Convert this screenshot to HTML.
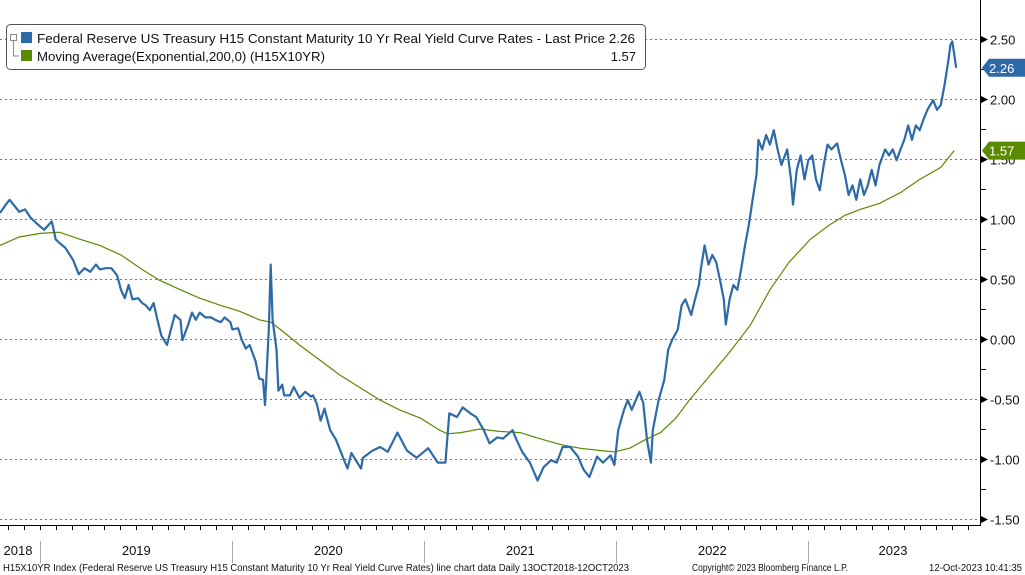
<!DOCTYPE html>
<html><head><meta charset="utf-8"><style>
html,body{margin:0;padding:0;background:#fff;}
svg{display:block;font-family:"Liberation Sans",sans-serif;}
</style></head><body>
<svg id="chart" width="1025" height="575" viewBox="0 0 1025 575" xmlns="http://www.w3.org/2000/svg">
<g id="grid"></g>
<g id="axes"></g>
<g id="series"></g>
<g id="legend">
<rect x="6.5" y="24.5" width="639" height="45" rx="4" fill="#fff" stroke="#555" stroke-width="1"/>
<rect x="10.5" y="34.5" width="6" height="6" fill="#fff" stroke="#888"/>
<path d="M13.5 41V56H19" stroke="#888" fill="none"/>
<rect x="21" y="32" width="11" height="11" fill="#2d6aa8"/>
<text x="37" y="43" font-size="13" fill="#111" textLength="598" lengthAdjust="spacingAndGlyphs">Federal Reserve US Treasury H15 Constant Maturity 10 Yr Real Yield Curve Rates - Last Price 2.26</text>
<rect x="21" y="50" width="11" height="11" fill="#5a8a00"/>
<text x="37" y="61" font-size="13" fill="#111" textLength="288" lengthAdjust="spacingAndGlyphs">Moving Average(Exponential,200,0) (H15X10YR)</text>
<text x="636" y="61" font-size="13" fill="#111" text-anchor="end">1.57</text>
</g>
<g id="footer" font-size="10" fill="#111">
<text x="3" y="571" textLength="626" lengthAdjust="spacingAndGlyphs">H15X10YR Index (Federal Reserve US Treasury H15 Constant Maturity 10 Yr Real Yield Curve Rates) line chart data  Daily 13OCT2018-12OCT2023</text>
<text x="692" y="571" textLength="156" lengthAdjust="spacingAndGlyphs">Copyright© 2023 Bloomberg Finance L.P.</text>
<text x="1022" y="571" text-anchor="end" textLength="93" lengthAdjust="spacingAndGlyphs">12-Oct-2023 10:41:35</text>
</g>
</svg>
<script>
const yieldDates=[2018.79,2018.82,2018.84,2018.87,2018.89,2018.92,2018.95,2018.99,2019.02,2019.06,2019.08,2019.10,2019.13,2019.17,2019.20,2019.23,2019.26,2019.29,2019.31,2019.34,2019.37,2019.40,2019.42,2019.44,2019.46,2019.48,2019.51,2019.53,2019.55,2019.57,2019.59,2019.61,2019.63,2019.66,2019.68,2019.70,2019.73,2019.74,2019.77,2019.79,2019.81,2019.83,2019.86,2019.89,2019.91,2019.94,2019.96,2019.99,2020.00,2020.03,2020.05,2020.07,2020.09,2020.12,2020.14,2020.16,2020.17,2020.19,2020.20,2020.21,2020.23,2020.24,2020.26,2020.27,2020.30,2020.32,2020.35,2020.38,2020.41,2020.42,2020.44,2020.46,2020.48,2020.51,2020.54,2020.60,2020.62,2020.67,2020.68,2020.73,2020.77,2020.81,2020.86,2020.91,2020.96,2021.02,2021.07,2021.11,2021.13,2021.17,2021.20,2021.24,2021.27,2021.31,2021.34,2021.38,2021.41,2021.46,2021.48,2021.51,2021.55,2021.59,2021.62,2021.66,2021.69,2021.72,2021.76,2021.80,2021.83,2021.86,2021.90,2021.93,2021.97,2021.99,2022.01,2022.04,2022.06,2022.08,2022.12,2022.14,2022.16,2022.18,2022.19,2022.22,2022.25,2022.27,2022.29,2022.32,2022.34,2022.36,2022.39,2022.41,2022.43,2022.44,2022.46,2022.48,2022.50,2022.52,2022.54,2022.56,2022.57,2022.59,2022.61,2022.63,2022.65,2022.67,2022.69,2022.71,2022.73,2022.74,2022.76,2022.78,2022.80,2022.82,2022.84,2022.86,2022.89,2022.91,2022.92,2022.94,2022.96,2022.98,2023.00,2023.02,2023.04,2023.06,2023.08,2023.10,2023.12,2023.15,2023.17,2023.19,2023.21,2023.23,2023.25,2023.27,2023.29,2023.31,2023.33,2023.35,2023.37,2023.40,2023.42,2023.44,2023.46,2023.48,2023.50,2023.52,2023.54,2023.56,2023.58,2023.60,2023.62,2023.65,2023.67,2023.69,2023.71,2023.73,2023.74,2023.75,2023.77];
const yieldValues=[1.05,1.12,1.16,1.10,1.06,1.08,1.01,0.95,0.91,0.98,0.83,0.80,0.76,0.66,0.54,0.59,0.56,0.62,0.58,0.59,0.59,0.53,0.41,0.34,0.45,0.33,0.34,0.30,0.28,0.24,0.30,0.16,0.03,-0.05,0.08,0.20,0.16,-0.01,0.12,0.22,0.16,0.22,0.18,0.18,0.16,0.14,0.18,0.14,0.08,0.09,-0.01,-0.08,-0.05,-0.18,-0.33,-0.34,-0.55,0.08,0.62,0.16,-0.09,-0.43,-0.38,-0.47,-0.47,-0.40,-0.49,-0.44,-0.48,-0.47,-0.54,-0.68,-0.58,-0.76,-0.84,-1.08,-0.95,-1.08,-0.99,-0.93,-0.90,-0.94,-0.78,-0.93,-0.99,-0.91,-1.03,-1.03,-0.62,-0.65,-0.57,-0.62,-0.65,-0.76,-0.87,-0.82,-0.83,-0.76,-0.84,-0.94,-1.03,-1.18,-1.07,-1.01,-1.03,-0.90,-0.90,-0.98,-1.09,-1.15,-0.98,-1.03,-0.97,-1.05,-0.76,-0.59,-0.51,-0.59,-0.44,-0.53,-0.84,-1.03,-0.76,-0.51,-0.34,-0.09,-0.01,0.08,0.28,0.33,0.20,0.33,0.45,0.58,0.78,0.62,0.70,0.64,0.49,0.33,0.12,0.33,0.45,0.41,0.58,0.78,0.95,1.16,1.37,1.66,1.58,1.70,1.62,1.74,1.58,1.45,1.58,1.33,1.12,1.41,1.53,1.33,1.49,1.53,1.33,1.24,1.45,1.62,1.58,1.63,1.49,1.37,1.20,1.28,1.16,1.33,1.20,1.28,1.41,1.28,1.45,1.58,1.53,1.58,1.49,1.58,1.66,1.78,1.66,1.78,1.74,1.83,1.91,1.99,1.91,1.95,2.12,2.33,2.45,2.48,2.26];
const maDates=[2018.79,2018.89,2019.00,2019.10,2019.21,2019.31,2019.42,2019.52,2019.62,2019.73,2019.83,2019.94,2020.04,2020.14,2020.20,2020.25,2020.35,2020.46,2020.56,2020.67,2020.77,2020.87,2020.98,2021.08,2021.12,2021.19,2021.29,2021.39,2021.50,2021.60,2021.71,2021.81,2021.92,2021.99,2022.07,2022.15,2022.23,2022.31,2022.38,2022.49,2022.59,2022.70,2022.80,2022.90,2023.01,2023.11,2023.19,2023.27,2023.37,2023.48,2023.58,2023.69,2023.76];
const maValues=[0.78,0.85,0.88,0.89,0.83,0.78,0.70,0.59,0.49,0.41,0.34,0.28,0.23,0.16,0.14,0.08,-0.05,-0.18,-0.30,-0.41,-0.51,-0.59,-0.66,-0.76,-0.79,-0.78,-0.75,-0.77,-0.78,-0.83,-0.88,-0.91,-0.93,-0.94,-0.91,-0.84,-0.78,-0.66,-0.51,-0.30,-0.11,0.12,0.41,0.64,0.83,0.95,1.03,1.08,1.13,1.22,1.33,1.43,1.57];
const yTicks=[2.5,2.0,1.5,1.0,0.5,0.0,-0.5,-1.0,-1.5];
const yearLabels=["2018","2019","2020","2021","2022","2023"];
const yearStarts=[2018,2019,2020,2021,2022,2023];
const lastYield=2.26, lastMA=1.57;

const NS="http://www.w3.org/2000/svg";
const X0=0, XSTART=2018.79, PXY=192, AXX=980, AXY=525;
function xs(d){return X0+(d-XSTART)*PXY;}
function ys(v){return 339-v*120;}
function mk(tag,attrs,parent){const e=document.createElementNS(NS,tag);for(const k in attrs)e.setAttribute(k,attrs[k]);parent.appendChild(e);return e;}
const grid=document.getElementById('grid'),axes=document.getElementById('axes'),series=document.getElementById('series');

yTicks.forEach(v=>{
  const y=Math.round(ys(v))+0.5;
  const g=mk('line',{x1:0,x2:AXX,y1:y,y2:y,stroke:'#777','stroke-dasharray':'2,3','stroke-width':1},grid);
  
  
  const t=mk('path',{d:`M${AXX} ${y-4}L${AXX+8} ${y}L${AXX} ${y+4}Z`,fill:'#000'},axes);
  
  
  const l=mk('text',{x:AXX+10,y:y+5,'font-size':13,fill:'#111'},axes);
  l.textContent=v.toFixed(2);
  
  
  if(v>-1.5){const ym=Math.round(ys(v-0.25))+0.5;
    const m=mk('line',{x1:AXX,x2:AXX+6,y1:ym,y2:ym,stroke:'#000'},axes);
    
    }
});
const ax=mk('path',{d:`M${AXX+0.5} 0V${AXY+0.5}H0`,stroke:'#000',fill:'none','stroke-width':1},axes);


for(let y=2018;y<=2023;y++){for(let m=0;m<12;m++){const d=y+m/12;const x=Math.round(xs(d))+0.5;if(x<1||x>AXX-2)continue;
  const t=mk('line',{x1:x,x2:x,y1:AXY,y2:AXY+5,stroke:'#000'},axes);
  
  }}
yearStarts.forEach((yr,i)=>{
  const x0=Math.max(0,xs(yr)), x1=Math.min(xs(yr+1),AXX);
  if(i>0){const s=mk('line',{x1:Math.round(xs(yr))+0.5,x2:Math.round(xs(yr))+0.5,y1:AXY+16,y2:AXY+38,stroke:'#aaa'},axes);
    
    }
  const cx=i==0?18:(i==5?893:(x0+x1)/2);
  const t=mk('text',{x:cx,y:AXY+30,'font-size':13,fill:'#111','text-anchor':'middle'},axes);
  t.textContent=yearLabels[i];
  
  
});
function path(dates,vals){return dates.map((d,i)=>(i?'L':'M')+xs(d).toFixed(1)+' '+ys(vals[i]).toFixed(1)).join('');}
const ma=mk('path',{d:path(maDates,maValues),stroke:'#5a8a00',fill:'none','stroke-width':1.2},series);


const yl=mk('path',{d:path(yieldDates,yieldValues),stroke:'#2d6aa8',fill:'none','stroke-width':2.2,'stroke-linejoin':'round'},series);


function callout(v,color,name){
  const y=ys(v);
  const g=mk('g',{},axes);
  
  
  mk('path',{d:`M${AXX+2} ${y}L${AXX+9} ${y-9}H1025V${y+9}H${AXX+9}Z`,fill:color},g);
  const t=mk('text',{x:AXX+9,y:y+5,'font-size':13,fill:'#fff'},g);
  t.textContent=v.toFixed(2);
}
callout(lastYield,'#2d6aa8','last-price-callout');
callout(lastMA,'#5a8a00','moving-average-callout');
</script>
</body></html>
